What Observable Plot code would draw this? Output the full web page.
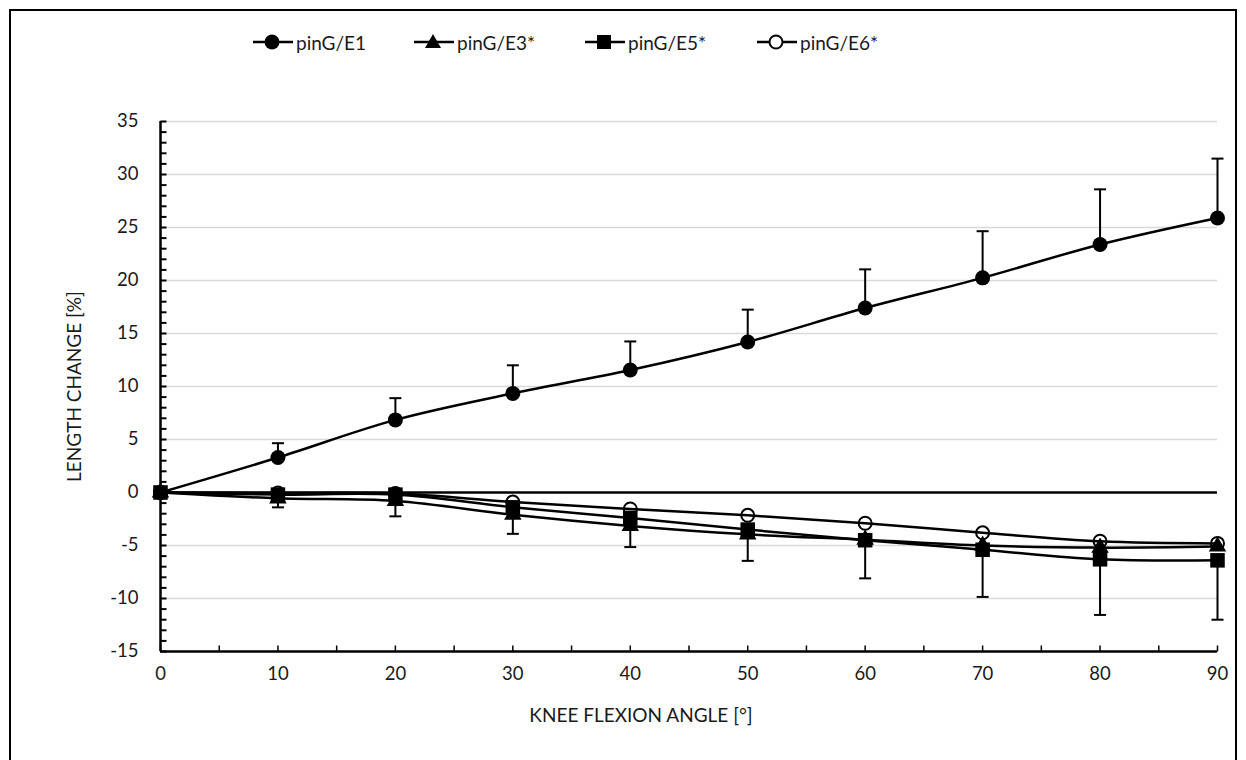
<!DOCTYPE html>
<html>
<head>
<meta charset="utf-8">
<script src="https://cdn.jsdelivr.net/npm/d3@7"></script>
<script src="https://cdn.jsdelivr.net/npm/@observablehq/plot@0.6"></script>
<style>
  html, body { margin: 0; padding: 0; background: #fff; }
  #wrap { position: relative; width: 1246px; height: 760px; overflow: hidden; font-family: Lato, "Open Sans", sans-serif; }
  #border { position: absolute; left: 9px; top: 9px; width: 1228px; height: 800px; border: 2px solid #000; box-sizing: border-box; }
  #chart { position: absolute; left: 0; top: 0; }
  .leg { position: absolute; top: 30px; height: 24px; display: flex; align-items: center; font-size: 19px; color: #1a1a1a; }
  .leg svg { margin-right: 3px; }
</style>
</head>
<body>
<div id="wrap">
  <div id="border"></div>
  <div id="chart"></div>
  <div id="legend"></div>
</div>
<script>
// ---- data ----
const angles = [0, 10, 20, 30, 40, 50, 60, 70, 80, 90];
const seriesNames = ["pinG/E1", "pinG/E3*", "pinG/E5*", "pinG/E6*"];
const e1 = [0, 3.3, 6.85, 9.35, 11.55, 14.2, 17.4, 20.25, 23.4, 25.9];
const e1Upper = [0, 4.65, 8.9, 12.0, 14.25, 17.25, 21.05, 24.65, 28.6, 31.5];
const e3 = [0, -0.55, -0.8, -2.1, -3.15, -3.95, -4.45, -5.0, -5.2, -5.1];
const e5 = [0, -0.2, -0.2, -1.4, -2.4, -3.5, -4.5, -5.4, -6.3, -6.4];
const e6 = [0, -0.05, -0.1, -0.9, -1.55, -2.15, -2.9, -3.8, -4.6, -4.8];
const lowerErrEnd = [0, -1.4, -2.25, -3.9, -5.15, -6.45, -8.1, -9.85, -11.55, -12.0];
const yTicks = [-15, -10, -5, 0, 5, 10, 15, 20, 25, 30, 35];
const yMinorTicks = d3.range(-15, 36, 1);
const xTicks = [0, 10, 20, 30, 40, 50, 60, 70, 80, 90];
const xMinorTicks = d3.range(0, 91, 5);
const xLabel = "KNEE FLEXION ANGLE [°]";
const yLabel = "LENGTH CHANGE [%]";

// ---- tables built from the arrays ----
const rows = (vals) => angles.map((a, i) => ({x: a, y: vals[i]}));
const d1 = rows(e1), d3s = rows(e3), d5 = rows(e5), d6 = rows(e6);
const err1 = angles.map((a, i) => ({x: a, y1: e1[i], y2: e1Upper[i]})).filter(d => d.x > 0);
const errLow = angles.map((a, i) => ({x: a, y1: e5[i], y2: lowerErrEnd[i]})).filter(d => d.x > 0);

// custom symbols
const capSymbol = {draw(ctx, size) { ctx.moveTo(-6, 0); ctx.lineTo(6, 0); }};
const yMinorSym = {draw(ctx, size) { ctx.moveTo(0, 0); ctx.lineTo(6, 0); }};
const xMinorSym = {draw(ctx, size) { ctx.moveTo(0, 0); ctx.lineTo(0, -6); }};

const lineOpts = {x: "x", y: "y", stroke: "black", strokeWidth: 2.5, curve: "catmull-rom"};
const plainFmt = d => String(d);

const chart = Plot.plot({
  width: 1246,
  height: 760,
  marginLeft: 160,
  marginRight: 29,
  marginTop: 121,
  marginBottom: 109,
  x: {domain: [0, 90]},
  y: {domain: [-15, 35]},
  style: {fontFamily: "Lato, 'Open Sans', sans-serif", fontSize: "18.5px", color: "#1a1a1a", background: "transparent", overflow: "visible"},
  marks: [
    Plot.ruleY(yTicks.filter(v => v !== 0 && v !== -15), {stroke: "#d9d9d9", strokeWidth: 1.5}),
    Plot.ruleY([0], {stroke: "black", strokeWidth: 2.5}),
    Plot.ruleX([0], {stroke: "black", strokeWidth: 2.5}),
    Plot.ruleY([-15], {stroke: "black", strokeWidth: 2.5}),
    Plot.dot(yMinorTicks, {x: () => 0, y: d => d, symbol: yMinorSym, stroke: "black", strokeWidth: 2, fill: "none"}),
    Plot.dot(xMinorTicks, {x: d => d, y: () => -15, symbol: xMinorSym, stroke: "black", strokeWidth: 1.5, fill: "none"}),
    Plot.axisY({ticks: yTicks, tickSize: 0, tickPadding: 22, label: null, tickFormat: plainFmt}),
    Plot.axisX({ticks: xTicks, tickSize: 0, tickPadding: 15, label: null, tickFormat: plainFmt}),
    Plot.text([xLabel], {frameAnchor: "bottom", textAnchor: "middle", dy: 70, dx: -48, fontSize: 19}),
    Plot.text([yLabel], {frameAnchor: "left", textAnchor: "middle", rotate: -90, dx: -86, fontSize: 19}),
    // error bars
    Plot.ruleX(err1, {x: "x", y1: "y1", y2: "y2", stroke: "black", strokeWidth: 2}),
    Plot.dot(err1, {x: "x", y: "y2", symbol: capSymbol, stroke: "black", strokeWidth: 2, fill: "none"}),
    Plot.ruleX(errLow, {x: "x", y1: "y1", y2: "y2", stroke: "black", strokeWidth: 2}),
    Plot.dot(errLow, {x: "x", y: "y2", symbol: capSymbol, stroke: "black", strokeWidth: 2, fill: "none"}),
    // series
    Plot.line(d1, lineOpts),
    Plot.dot(d1, {x: "x", y: "y", r: 7.5, fill: "black", stroke: "none"}),
    Plot.line(d3s, lineOpts),
    Plot.dot(d3s, {x: "x", y: "y", r: 6.5, symbol: "triangle", fill: "black", stroke: "none"}),
    Plot.line(d5, lineOpts),
    Plot.dot(d5, {x: "x", y: "y", r: 8.2, symbol: "square", fill: "black", stroke: "none"}),
    Plot.line(d6, lineOpts),
    Plot.dot(d6, {x: "x", y: "y", r: 6.5, fill: "none", stroke: "black", strokeWidth: 2})
  ]
});
document.getElementById("chart").appendChild(chart);

// ---- legend ----
const legendLefts = [253, 414, 585, 757];
const markerSvgs = [
  '<circle cx="19" cy="12" r="7.5" fill="black"/>',
  '<path d="M19,4 L27,18 L11,18 Z" fill="black"/>',
  '<rect x="12" y="5" width="14" height="14" fill="black"/>',
  '<circle cx="19" cy="12" r="6.5" fill="white" stroke="black" stroke-width="2"/>'
];
const legend = document.getElementById("legend");
seriesNames.forEach((name, i) => {
  const div = document.createElement("div");
  div.className = "leg";
  div.style.left = legendLefts[i] + "px";
  div.innerHTML = '<svg width="40" height="24"><line x1="0" y1="12" x2="40" y2="12" stroke="black" stroke-width="2.5"/>' + markerSvgs[i] + '</svg><span>' + name + '</span>';
  legend.appendChild(div);
});
</script>
</body>
</html>
